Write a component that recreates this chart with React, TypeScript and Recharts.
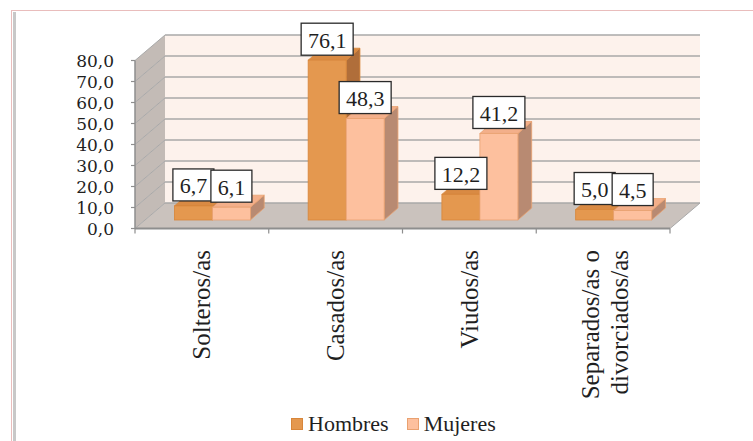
import React from 'react';
import { BarChart, Bar, XAxis, YAxis, ReferenceArea, LabelList, Legend } from 'recharts';

// ---- data ----
const categories = ['Solteros/as', 'Casados/as', 'Viudos/as', 'Separados/as o divorciados/as'];
const categoryLabelLines: string[][] = [
  ['Solteros/as'],
  ['Casados/as'],
  ['Viudos/as'],
  ['Separados/as o', 'divorciados/as'],
];
const hombres = [6.7, 76.1, 12.2, 5.0];
const mujeres = [6.1, 48.3, 41.2, 4.5];
const yTicks = [0, 10, 20, 30, 40, 50, 60, 70, 80];
const bandStarts = [0, 10, 20, 30, 40, 50, 60, 70];
const seriesNames = ['Hombres', 'Mujeres'];

const data = categories.map((c, i) => ({ name: c, Hombres: hombres[i], Mujeres: mujeres[i] }));

// ---- layout / style ----
const W = 753;
const H = 441;
const PLOT_L = 145.4;
const PLOT_R = 680.4;
const PLOT_T = 52;
const PLOT_B = 220;
const FRONT = { dx: -10.4, dy: 8.5 };
const BACK = { dx: 19.6, dy: -17 };
const DEPTH = { dx: 13.8, dy: -12 };
const FONT_AXIS = '"DejaVu Serif", serif';
const FONT = '"Liberation Serif", "Times New Roman", serif';
const TEXT = '#1f1f1f';
const X_AXIS_H = 20;
const Y_AXIS_W = 20;

const COLORS = {
  Hombres: { front: '#E4984F', top: '#D98A43', side: '#B06E3A', stroke: '#D8863A' },
  Mujeres: { front: '#FDC09E', top: '#F3AF8A', side: '#B88A72', stroke: '#E9A170' },
};

const fmt = (v: number) => v.toFixed(1).replace('.', ',');
const textWidth = (s: string, fs: number) => {
  let w = 0;
  for (const ch of s) w += ch === ',' ? 0.25 : 0.5;
  return w * fs;
};

function WallFill(props: any) {
  const { x, y, width, height, bottom } = props;
  if (x == null || y == null) return null;
  const L = x;
  const R = x + width;
  const yT = y;
  const yB = y + height;
  const bl = L + BACK.dx;
  const br = R + BACK.dx;
  const fl = L + FRONT.dx;
  const fr = R + FRONT.dx;
  return (
    <g>
      <rect x={bl} y={yT + BACK.dy} width={br - bl} height={yB - yT} fill="#FDF2EC" />
      <polygon
        points={`${fl},${yB + FRONT.dy} ${fl},${yT + FRONT.dy} ${bl},${yT + BACK.dy} ${bl},${yB + BACK.dy}`}
        fill="#C3BBB6"
      />
      {bottom && (
        <polygon
          points={`${fl},${yB + FRONT.dy} ${fr},${yB + FRONT.dy} ${br},${yB + BACK.dy} ${bl},${yB + BACK.dy}`}
          fill="#CAC2BD"
        />
      )}
    </g>
  );
}

function WallLines(props: any) {
  const { x, y, width, height, bottom } = props;
  if (x == null || y == null) return null;
  const L = x;
  const R = x + width;
  const yT = y;
  const yB = y + height;
  const bl = L + BACK.dx;
  const br = R + BACK.dx;
  const fl = L + FRONT.dx;
  const fr = R + FRONT.dx;
  const grid = '#A9A9A9';
  const axis = '#8E8E8E';
  return (
    <g>
      <line x1={bl} y1={yT + BACK.dy} x2={br} y2={yT + BACK.dy} stroke={grid} strokeWidth={1.5} />
      <line x1={fl} y1={yT + FRONT.dy} x2={bl} y2={yT + BACK.dy} stroke={grid} strokeWidth={1} />
      <line x1={fl} y1={yT + FRONT.dy} x2={fl} y2={yB + FRONT.dy} stroke={axis} strokeWidth={1.5} />
      <line x1={fl - 4} y1={yT + FRONT.dy} x2={fl} y2={yT + FRONT.dy} stroke={axis} strokeWidth={1.2} />
      {bottom && (
        <g>
          <line x1={bl} y1={yB + BACK.dy} x2={br} y2={yB + BACK.dy} stroke={grid} strokeWidth={1.5} />
          <line x1={fl} y1={yB + FRONT.dy} x2={bl} y2={yB + BACK.dy} stroke={grid} strokeWidth={1} />
          <line x1={fr} y1={yB + FRONT.dy} x2={br} y2={yB + BACK.dy} stroke={grid} strokeWidth={1} />
          <line x1={fl} y1={yB + FRONT.dy} x2={fr} y2={yB + FRONT.dy} stroke={axis} strokeWidth={1.8} />
          <line x1={fl - 4} y1={yB + FRONT.dy} x2={fl} y2={yB + FRONT.dy} stroke={axis} strokeWidth={1.2} />
        </g>
      )}
    </g>
  );
}

function CatTick(props: any) {
  const { x, y, width, height, last } = props;
  if (x == null || y == null) return null;
  const yB = y + height + FRONT.dy;
  const axis = '#8E8E8E';
  return (
    <g>
      <line x1={x + FRONT.dx} y1={yB} x2={x + FRONT.dx} y2={yB + 5} stroke={axis} strokeWidth={1.2} />
      {last && (
        <line x1={x + width + FRONT.dx} y1={yB} x2={x + width + FRONT.dx} y2={yB + 5} stroke={axis} strokeWidth={1.2} />
      )}
    </g>
  );
}

const makeBarShape = (c: { front: string; top: string; side: string; stroke: string }) => (props: any) => {
  const { x, y, width, height } = props;
  if (x == null || y == null || !width) return null;
  const { dx, dy } = DEPTH;
  const h = Math.max(0, height);
  return (
    <g>
      <polygon
        points={`${x + width},${y} ${x + width + dx},${y + dy} ${x + width + dx},${y + h + dy} ${x + width},${y + h}`}
        fill={c.side}
        stroke={c.stroke}
        strokeWidth={0.8}
        strokeLinejoin="round"
      />
      <polygon
        points={`${x},${y} ${x + dx},${y + dy} ${x + width + dx},${y + dy} ${x + width},${y}`}
        fill={c.top}
        stroke={c.stroke}
        strokeWidth={0.8}
        strokeLinejoin="round"
      />
      <rect x={x} y={y} width={width} height={h} fill={c.front} stroke={c.stroke} strokeWidth={0.8} />
    </g>
  );
};

function ValueBox(props: any) {
  const { x, y, width, value } = props;
  if (x == null || y == null) return null;
  const txt = fmt(Number(value));
  const fs = 22;
  const bw = textWidth(txt, fs) + 13.5;
  const bh = 32;
  const cx = x + width / 2;
  const bottom = y - 5;
  return (
    <g>
      <rect x={cx - bw / 2} y={bottom - bh} width={bw} height={bh} fill="#ffffff" stroke="#2a2a2a" strokeWidth={1.3} />
      <text
        x={cx}
        y={bottom - bh / 2 + 1}
        textAnchor="middle"
        dominantBaseline="central"
        fontFamily={FONT}
        fontSize={fs}
        fill={TEXT}
      >
        {txt}
      </text>
    </g>
  );
}

function YTick(props: any) {
  const { y, payload } = props;
  const fx = PLOT_L + FRONT.dx;
  return (
    <text
      x={fx - 21}
      y={y + FRONT.dy}
      textAnchor="end"
      dominantBaseline="central"
      fontFamily={FONT_AXIS}
      fontSize={17}
      fill={TEXT}
    >
      {fmt(Number(payload.value))}
    </text>
  );
}

function XTick(props: any) {
  const { x, index } = props;
  const lines = categoryLabelLines[index] || [String(props.payload?.value ?? '')];
  const n = lines.length;
  const cx = x + FRONT.dx + (n > 1 ? 2 : 0);
  const ty = 250;
  return (
    <g>
      {lines.map((ln, i) => {
        const lx = cx + (i - (n - 1) / 2) * 29;
        return (
          <text
            key={i}
            x={lx}
            y={ty}
            transform={`rotate(-90 ${lx} ${ty})`}
            textAnchor="end"
            dominantBaseline="central"
            fontFamily={FONT}
            fontSize={25}
            fill={TEXT}
          >
            {ln}
          </text>
        );
      })}
    </g>
  );
}

function LegendContent(props: any) {
  const items = (props.payload && props.payload.length ? props.payload : seriesNames.map((s) => ({ value: s }))) as any[];
  return (
    <div
      style={{
        display: 'flex',
        alignItems: 'center',
        fontFamily: FONT,
        fontSize: 22,
        lineHeight: '22px',
        height: 22,
        color: TEXT,
        whiteSpace: 'nowrap',
      }}
    >
      {items.map((it: any, i: number) => {
        const name = String(it.value);
        const c = (COLORS as any)[name] || COLORS.Hombres;
        return (
          <div key={name} style={{ display: 'flex', alignItems: 'center', marginRight: i === 0 ? 18 : 0 }}>
            <span
              style={{
                display: 'inline-block',
                width: 10,
                height: 10,
                background: c.front,
                border: `1px solid ${c.stroke}`,
                marginRight: 5,
              }}
            />
            <span>{name}</span>
          </div>
        );
      })}
    </div>
  );
}

export default function App() {
  return (
    <div style={{ position: 'absolute', left: 0, top: 0, width: W, height: H, overflow: 'hidden', background: '#ffffff' }}>
      <div
        style={{
          position: 'absolute',
          left: 11,
          top: 10,
          width: W - 11,
          height: H - 10,
          boxSizing: 'border-box',
          borderTop: '1.5px solid #E9BDBC',
          borderLeft: '1.5px solid #E9BDBC',
        }}
      />
      <div style={{ position: 'absolute', left: 13, top: 11.5, width: 2.5, height: H - 11.5, background: '#C8C8C8' }} />
      <div style={{ position: 'absolute', left: 0, top: 0 }}>
        <BarChart
          width={W}
          height={H}
          data={data}
          margin={{ top: PLOT_T, right: W - PLOT_R, bottom: H - PLOT_B - X_AXIS_H, left: PLOT_L - Y_AXIS_W }}
          barGap={0}
          barSize={38}
        >
          <XAxis
            dataKey="name"
            height={X_AXIS_H}
            axisLine={false}
            tickLine={false}
            interval={0}
            tick={<XTick />}
          />
          <YAxis
            width={Y_AXIS_W}
            domain={[0, 80]}
            ticks={yTicks}
            axisLine={false}
            tickLine={false}
            interval={0}
            tick={<YTick />}
          />
          {bandStarts.map((v, i) => (
            <ReferenceArea
              key={`f${v}`}
              y1={v}
              y2={v + 10}
              ifOverflow="visible"
              shape={(p: any) => <WallFill {...p} bottom={i === 0} />}
            />
          ))}
          {bandStarts.map((v, i) => (
            <ReferenceArea
              key={`l${v}`}
              y1={v}
              y2={v + 10}
              ifOverflow="visible"
              shape={(p: any) => <WallLines {...p} bottom={i === 0} />}
            />
          ))}
          {categories.map((c, i) => (
            <ReferenceArea
              key={`c${i}`}
              x1={c}
              x2={c}
              ifOverflow="visible"
              shape={(p: any) => <CatTick {...p} last={i === categories.length - 1} />}
            />
          ))}
          <Bar dataKey="Hombres" fill={COLORS.Hombres.front} isAnimationActive={false} shape={makeBarShape(COLORS.Hombres)}>
            <LabelList dataKey="Hombres" content={<ValueBox />} />
          </Bar>
          <Bar dataKey="Mujeres" fill={COLORS.Mujeres.front} isAnimationActive={false} shape={makeBarShape(COLORS.Mujeres)}>
            <LabelList dataKey="Mujeres" content={<ValueBox />} />
          </Bar>
          <Legend
            layout="horizontal"
            verticalAlign="middle"
            align="center"
            content={<LegendContent />}
            wrapperStyle={{ left: 291, top: 413, width: 240, height: 22, lineHeight: '22px' }}
          />
        </BarChart>
      </div>
    </div>
  );
}
